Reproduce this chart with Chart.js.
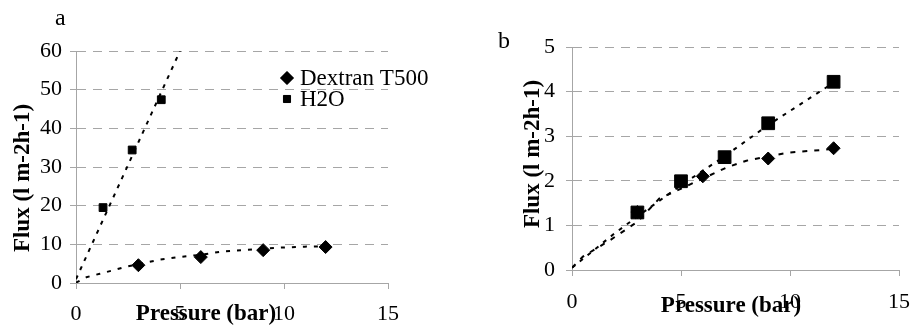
<!DOCTYPE html>
<html>
<head>
<meta charset="utf-8">
<script src="https://cdn.jsdelivr.net/npm/chart.js@4.4.1/dist/chart.umd.min.js"></script>
<style>
  html, body { margin: 0; padding: 0; background: #fff; }
  #wrap { position: relative; width: 923px; height: 326px; }
  canvas { position: absolute; top: 0; }
  #chartA { left: 0; }
  #chartB { left: 463px; }
</style>
</head>
<body>
<div id="wrap">
  <canvas id="chartA" width="463" height="326"></canvas>
  <canvas id="chartB" width="460" height="326"></canvas>
</div>
<script>
// ---- panel a ----
const dexA_x = [3, 6, 9, 12];
const dexA_y = [4.6, 6.7, 8.5, 9.3];
const h2oA_x = [1.3, 2.7, 4.1];
const h2oA_y = [19.5, 34.4, 47.4];
const dexA_trend_x = [0, 0.5, 1.15, 1.8, 2.4, 3, 4, 4.8, 6, 7.1, 8, 9, 9.8, 11, 12];
const dexA_trend_y = [0.1, 1.5, 2.4, 3.3, 4.2, 4.9, 6.0, 6.6, 7.3, 8.2, 8.5, 8.9, 9.15, 9.4, 9.5];
const h2oA_trend_x = [0, 5];
const h2oA_trend_y = [1, 60];
const yTicksA = [0, 10, 20, 30, 40, 50, 60];

// ---- panel b ----
const dexB_x = [3, 6, 9, 12];
const dexB_y = [1.3, 2.1, 2.5, 2.73];
const h2oB_x = [3, 5, 7, 9, 12];
const h2oB_y = [1.29, 1.99, 2.53, 3.29, 4.22];
const dexB_trend_x = [0, 0.5, 1.75, 3, 4, 6, 7.1, 8, 9, 9.9, 11.4, 12];
const dexB_trend_y = [0.05, 0.3, 0.67, 1.08, 1.6, 2.05, 2.3, 2.45, 2.55, 2.63, 2.69, 2.72];
const h2oB_trend_x = [0, 1.9, 3, 5, 7, 9, 12];
const h2oB_trend_y = [0.05, 0.8, 1.2, 1.9, 2.55, 3.25, 4.2];
const yTicksB = [0, 1, 2, 3, 4, 5];

const xTicks = [0, 5, 10, 15];
const seriesNames = ['Dextran T500', 'H2O'];
const xTitle = 'Pressure (bar)';
const yTitle = 'Flux (l m-2h-1)';

const SERIF = '"Liberation Serif", "Times New Roman", serif';
const GRID = '#a6a6a6';

const toPoints = (xs, ys) => xs.map((x, i) => ({ x: x, y: ys[i] }));

// extra texts: panel letter, axis titles, legend
const textPlugin = {
  id: 'panelText',
  afterDraw(chart, args, opts) {
    const ctx = chart.ctx;
    ctx.save();
    ctx.fillStyle = '#000';

    ctx.font = '24px ' + SERIF;
    ctx.textAlign = 'left';
    ctx.textBaseline = 'alphabetic';
    ctx.fillText(opts.letter, opts.letterPos[0], opts.letterPos[1]);

    ctx.font = 'bold 23px ' + SERIF;
    ctx.textAlign = 'center';
    ctx.fillText(xTitle, opts.xTitlePos[0], opts.xTitlePos[1]);

    ctx.save();
    ctx.translate(opts.yTitlePos[0], opts.yTitlePos[1]);
    ctx.rotate(-Math.PI / 2);
    ctx.fillText(yTitle, 0, 0);
    ctx.restore();

    if (opts.legend) {
      const L = opts.legend;
      ctx.font = '23px ' + SERIF;
      ctx.textAlign = 'left';
      ctx.textBaseline = 'middle';
      chart.data.datasets.forEach((ds) => {
        if (!ds.inLegend) return;
        const row = seriesNames.indexOf(ds.label);
        const y = L.y + row * L.rowGap;
        Chart.helpers.drawPoint(ctx, {
          pointStyle: ds.pointStyle,
          radius: ds.legendRadius,
          rotation: 0,
          borderWidth: 1
        }, L.markerX, y);
        ctx.fillStyle = '#000';
        ctx.strokeStyle = '#000';
        ctx.fill();
        ctx.fillText(ds.label, L.textX, y + 1);
      });
    }
    ctx.restore();
  }
};

function makePanel(id, cfg) {
  const ctx = document.getElementById(id).getContext('2d');
  return new Chart(ctx, {
    type: 'scatter',
    data: { datasets: cfg.datasets },
    options: {
      responsive: false,
      animation: false,
      layout: { padding: cfg.padding },
      scales: {
        x: {
          type: 'linear',
          min: 0,
          max: 15,
          afterBuildTicks: (s) => { s.ticks = xTicks.map(v => ({ value: v })); },
          afterFit: (s) => { s.height = cfg.xAxisHeight; },
          ticks: { color: '#000', font: { family: SERIF, size: 22 }, padding: cfg.xTickPad, maxRotation: 0 },
          grid: { drawOnChartArea: false, drawTicks: true, tickLength: 6, color: GRID },
          border: { color: GRID, width: 1 }
        },
        y: {
          type: 'linear',
          min: cfg.yTicks[0],
          max: cfg.yTicks[cfg.yTicks.length - 1],
          afterBuildTicks: (s) => { s.ticks = cfg.yTicks.map(v => ({ value: v })); },
          afterFit: (s) => { s.width = cfg.yAxisWidth; },
          ticks: { color: '#000', font: { family: SERIF, size: 22 }, padding: cfg.yTickPad },
          grid: { color: GRID, tickLength: 6, tickBorderDash: [] },
          border: { color: GRID, width: 1, dash: [9, 7] }
        }
      },
      plugins: {
        legend: { display: false },
        tooltip: { enabled: false },
        panelText: cfg.text
      }
    },
    plugins: [textPlugin]
  });
}

const trendStyle = (dash) => ({
  showLine: true,
  pointRadius: 0,
  borderColor: '#000',
  borderWidth: 2,
  borderDash: dash,
  fill: false,
  order: 2
});

makePanel('chartA', {
  padding: { left: 0, top: 51, right: 75, bottom: 0 },
  xAxisHeight: 43,
  yAxisWidth: 76,
  xTickPad: 12,
  yTickPad: 8,
  yTicks: yTicksA,
  datasets: [
    { label: seriesNames[0], data: toPoints(dexA_x, dexA_y), pointStyle: 'rectRot', pointRadius: 6.5,
      backgroundColor: '#000', borderColor: '#000', borderWidth: 1, order: 0, inLegend: true, legendRadius: 6.5 },
    { label: seriesNames[1], data: toPoints(h2oA_x, h2oA_y), pointStyle: 'rect', pointRadius: 5.5,
      backgroundColor: '#000', borderColor: '#000', borderWidth: 1, order: 0, inLegend: true, legendRadius: 5 },
    Object.assign({ label: 'trend dextran', data: toPoints(dexA_trend_x, dexA_trend_y) }, trendStyle([4, 7])),
    Object.assign({ label: 'trend h2o', data: toPoints(h2oA_trend_x, h2oA_trend_y) }, trendStyle([4, 6]))
  ],
  text: {
    letter: 'a', letterPos: [55, 25],
    xTitlePos: [206, 320],
    yTitlePos: [29, 178],
    legend: { markerX: 287, textX: 300, y: 78, rowGap: 21 }
  }
});

makePanel('chartB', {
  padding: { left: 0, top: 47, right: 11, bottom: 0 },
  xAxisHeight: 56,
  yAxisWidth: 109,
  xTickPad: 13,
  yTickPad: 11,
  yTicks: yTicksB,
  datasets: [
    { label: seriesNames[0], data: toPoints(dexB_x, dexB_y), pointStyle: 'rectRot', pointRadius: 6.5,
      backgroundColor: '#000', borderColor: '#000', borderWidth: 1, order: 0 },
    { label: seriesNames[1], data: toPoints(h2oB_x, h2oB_y), pointStyle: 'rect', pointRadius: 9,
      backgroundColor: '#000', borderColor: '#000', borderWidth: 1, order: 0 },
    Object.assign({ label: 'trend dextran', data: toPoints(dexB_trend_x, dexB_trend_y) }, trendStyle([5, 7])),
    Object.assign({ label: 'trend h2o', data: toPoints(h2oB_trend_x, h2oB_trend_y) }, trendStyle([4, 6]))
  ],
  text: {
    letter: 'b', letterPos: [35, 48],
    xTitlePos: [268, 312],
    yTitlePos: [76, 154]
  }
});
</script>
</body>
</html>
